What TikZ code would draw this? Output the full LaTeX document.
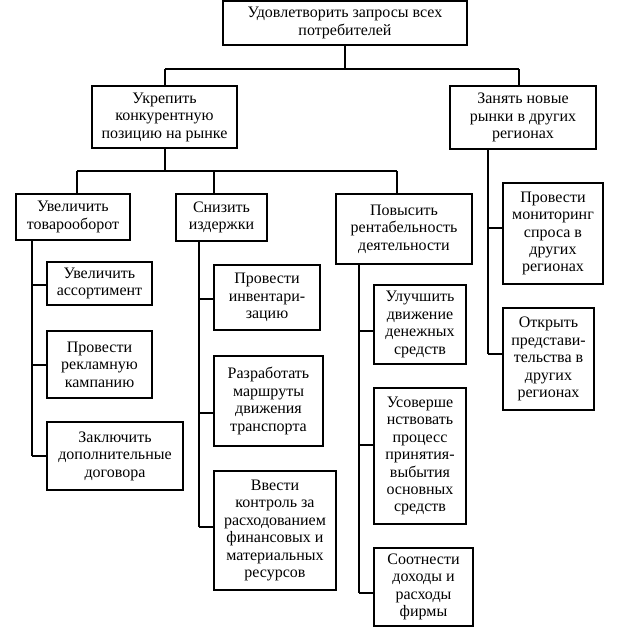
\documentclass[tikz,border=0pt]{standalone}
\usepackage{fontspec}
\setmainfont{Liberation Serif}
\usetikzlibrary{calc}
\begin{document}
\begin{tikzpicture}[x=0.75pt,y=-0.75pt,
  box/.style={draw, line width=0.8pt, inner sep=0pt, align=center,
    font=\fontsize{12}{13.1}\selectfont},
  bx/.style 2 args={minimum width=#1*0.75pt, minimum height=#2*0.75pt},
  ln/.style={line width=0.8pt}]
\useasboundingbox (0,0) rectangle (620,636);
% level 0/1
\node[box,bx={244}{44}] (top) at (345,23) {Удовлетворить запросы всех\\потребителей};
\node[box,bx={145}{62}] (ukr) at (164.5,117) {Укрепить\\конкурентную\\позицию на рынке};
\node[box,bx={146}{63}] (zan) at (523,117.5) {Занять новые\\рынки в других\\регионах};
% level 2
\node[box,bx={114}{46}] (uvt) at (73,217) {Увеличить\\товарооборот};
\node[box,bx={91}{47}] (sniz) at (221.5,217.5) {Снизить\\издержки};
\node[box,bx={136}{70}] (pov) at (404,229) {Повысить\\рентабельность\\деятельности};
% under uvt
\node[box,bx={105}{43}] (uva) at (99.5,283.5) {Увеличить\\ассортимент};
\node[box,bx={105}{67}] (prr) at (99.5,364.5) {Провести\\рекламную\\кампанию};
\node[box,bx={136}{68}] (zak) at (115,456) {Заключить\\дополнительные\\договора};
% under sniz
\node[box,bx={106}{65}] (inv) at (267,297.5) {Провести\\инвентари-\\зацию};
\node[box,bx={109}{90}] (raz) at (268.5,401) {Разработать\\маршруты\\движения\\транспорта};
\node[box,bx={122}{119}] (vve) at (275,530.5) {Ввести\\контроль за\\расходованием\\финансовых и\\материальных\\ресурсов};
% under pov
\node[box,bx={92}{79}] (ulu) at (420,324.5) {Улучшить\\движение\\денежных\\средств};
\node[box,bx={92}{136}] (usov) at (420,456) {Усоверше\\нствовать\\процесс\\принятия-\\выбытия\\основных\\средств};
\node[box,bx={99}{78}] (soot) at (423.5,587) {Соотнести\\доходы и\\расходы\\фирмы};
% under zan
\node[box,bx={100}{101}] (mon) at (553,233.5) {Провести\\мониторинг\\спроса в\\других\\регионах};
\node[box,bx={91}{102}] (otk) at (548.5,359) {Открыть\\представи-\\тельства в\\других\\регионах};

% connectors level 0 -> 1
\coordinate (j0) at (345,69);
\draw[ln] (top.south) -- (j0);
\draw[ln] (165,69) -- (519,69);
\draw[ln] (165,69) -- (ukr.north -| 165,0);
\draw[ln] (519,69) -- (zan.north -| 519,0);
% level 1 -> 2
\coordinate (j1) at (165,171);
\draw[ln] (ukr.south -| 165,0) -- (j1);
\draw[ln] (77,171) -- (397,171);
\draw[ln] (77,171) -- (uvt.north -| 77,0);
\draw[ln] (214,171) -- (sniz.north -| 214,0);
\draw[ln] (397,171) -- (pov.north -| 397,0);
% uvt trunk
\draw[ln] (uvt.south -| 32,0) -- (32,456);
\draw[ln] (32,285) -- (uva.west |- 0,285);
\draw[ln] (32,365) -- (prr.west |- 0,365);
\draw[ln] (32,456) -- (zak.west |- 0,456);
% sniz trunk
\draw[ln] (sniz.south -| 199,0) -- (199,527);
\draw[ln] (199,299) -- (inv.west |- 0,299);
\draw[ln] (199,413) -- (raz.west |- 0,413);
\draw[ln] (199,527) -- (vve.west |- 0,527);
% pov trunk
\draw[ln] (pov.south -| 359,0) -- (359,593);
\draw[ln] (359,331) -- (ulu.west |- 0,331);
\draw[ln] (359,445) -- (usov.west |- 0,445);
\draw[ln] (359,593) -- (soot.west |- 0,593);
% zan trunk
\draw[ln] (zan.south -| 488,0) -- (488,354);
\draw[ln] (488,228) -- (mon.west |- 0,228);
\draw[ln] (488,354) -- (otk.west |- 0,354);
\end{tikzpicture}
\end{document}
